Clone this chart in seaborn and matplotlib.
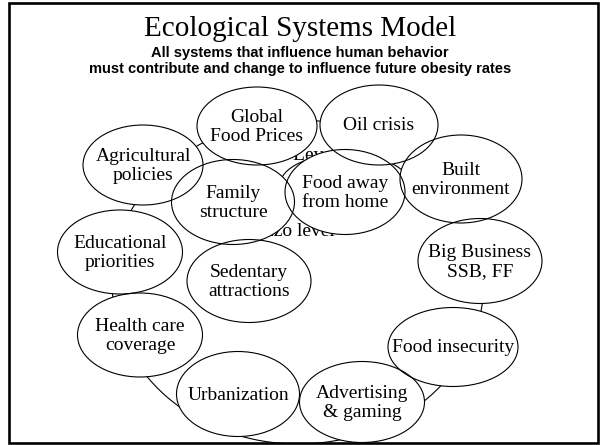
import seaborn as sns
import matplotlib.pyplot as plt
from matplotlib.patches import Ellipse, Rectangle

sns.set_theme(style="white")

# Diagram content
title = "Ecological Systems Model"
subtitle = ["All systems that influence human behavior",
            "must contribute and change to influence future obesity rates"]

labels = ["Global\nFood Prices", "Oil crisis", "Agricultural\npolicies",
          "Family\nstructure", "Food away\nfrom home", "Built\nenvironment",
          "Educational\npriorities", "Sedentary\nattractions", "Big Business\nSSB, FF",
          "Health care\ncoverage", "Food insecurity", "Urbanization",
          "Advertising\n& gaming"]
center_x = [257, 379, 143, 233, 345, 461, 120, 249, 480, 140, 453, 238, 362]
center_y = [126, 125, 165, 202, 192, 179, 252, 281, 261, 335, 347, 394, 402]
widths = [120, 118, 120, 123, 120, 122, 125, 124, 124, 125, 130, 123, 125]
heights = [78, 80, 80, 85, 85, 88, 84, 83, 85, 84, 79, 85, 81]

# background rings (mostly hidden behind the bubbles)
ring_labels = ["Macro Level", "Mezzo level"]
ring_label_x = [287, 287]
ring_label_y = [156, 232]

fig = plt.figure(figsize=(6, 4.45), dpi=100)
ax = fig.add_axes([0, 0, 1, 1])
ax.set_xlim(0, 600)
ax.set_ylim(445, 0)
ax.axis("off")

frame = Rectangle((9, 3), 589, 440, fill=False, edgecolor="black", linewidth=1.9, zorder=10)
ax.add_patch(frame)

# outer and middle rings
outer = Ellipse((298, 282), 372, 324, fill=False, edgecolor="black", linewidth=0.8, zorder=1)
ax.add_patch(outer)
outer.set_clip_path(frame)
middle = Ellipse((345, 185), 130, 62, fill=False, edgecolor="black", linewidth=0.8, zorder=1)
ax.add_patch(middle)

for txt, x, y in zip(ring_labels, ring_label_x, ring_label_y):
    ax.text(x, y, txt, ha="center", va="center", fontsize=14,
            family="Liberation Serif", color="black", zorder=1)

# bubbles: fills first, then outlines
for x, y, w, h in zip(center_x, center_y, widths, heights):
    ax.add_patch(Ellipse((x, y), w, h, facecolor="white", edgecolor="none", zorder=2))
for x, y, w, h in zip(center_x, center_y, widths, heights):
    ax.add_patch(Ellipse((x, y), w, h, fill=False, edgecolor="black", linewidth=0.8, zorder=3))
for txt, x, y in zip(labels, center_x, center_y):
    ax.text(x, y + 1, txt, ha="center", va="center", fontsize=14,
            family="Liberation Serif", linespacing=1.15, color="black", zorder=4)

ax.text(300, 29, title, ha="center", va="center", fontsize=21,
        family="Liberation Serif", color="black")
ax.text(300, 53, subtitle[0], ha="center", va="center", fontsize=10.5,
        family="Liberation Sans", weight="bold", color="black")
ax.text(300, 69, subtitle[1], ha="center", va="center", fontsize=10.5,
        family="Liberation Sans", weight="bold", color="black")

plt.savefig("out.png", dpi=100)
plt.close()
